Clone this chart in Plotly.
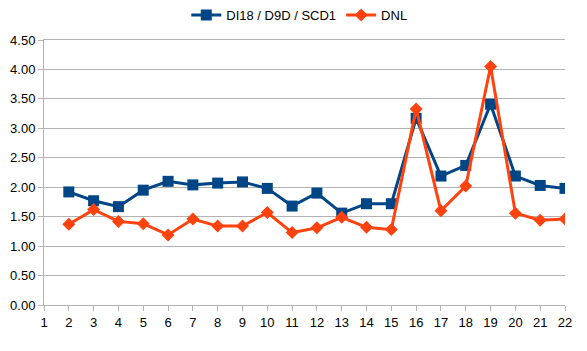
import plotly.graph_objects as go

x_vals = list(range(2, 23))
di18 = [1.92, 1.77, 1.67, 1.95, 2.10, 2.04, 2.07, 2.09, 1.98, 1.68, 1.90,
        1.56, 1.72, 1.72, 3.17, 2.19, 2.37, 3.41, 2.19, 2.03, 1.98]
dnl = [1.37, 1.62, 1.42, 1.38, 1.19, 1.46, 1.34, 1.34, 1.57, 1.23, 1.31,
       1.49, 1.32, 1.28, 3.33, 1.60, 2.02, 4.05, 1.56, 1.44, 1.46]
x_ticks = list(range(1, 23))
y_ticks = [0, 0.5, 1.0, 1.5, 2.0, 2.5, 3.0, 3.5, 4.0, 4.5]

fig = go.Figure()
fig.add_trace(go.Scatter(x=x_vals, y=di18, name="DI18 / D9D / SCD1", mode="lines+markers",
                         line=dict(color="#004586", width=3),
                         marker=dict(symbol="square", size=11, color="#004586")))
fig.add_trace(go.Scatter(x=x_vals, y=dnl, name="DNL", mode="lines+markers",
                         line=dict(color="#ff420e", width=3),
                         marker=dict(symbol="diamond", size=10, color="#ff420e")))

fig.update_layout(
    width=587, height=351,
    margin=dict(l=44, r=22, t=40, b=46, autoexpand=False),
    paper_bgcolor="white", plot_bgcolor="white",
    font=dict(family="Liberation Sans, Arial, sans-serif", size=13, color="#000000"),
    legend=dict(orientation="h", x=0.49, xanchor="center", y=1.0, yanchor="top",
                yref="container", font=dict(size=13), traceorder="normal"),
    showlegend=True,
)
fig.update_xaxes(range=[1, 22], tickmode="array", tickvals=x_ticks,
                 ticktext=[str(t) for t in x_ticks],
                 showgrid=False, showline=True, linecolor="#b3b3b3", linewidth=1,
                 mirror=True, ticks="outside", ticklen=5, tickcolor="#b3b3b3",
                 zeroline=False)
fig.update_yaxes(range=[0, 4.5], tickmode="array", tickvals=y_ticks,
                 ticktext=[f"{v:.2f}" for v in y_ticks],
                 showgrid=True, gridcolor="#b3b3b3", gridwidth=1,
                 showline=True, linecolor="#b3b3b3", linewidth=1,
                 ticks="outside", ticklen=5, tickcolor="#b3b3b3", zeroline=False)

fig.write_html("out.html")
